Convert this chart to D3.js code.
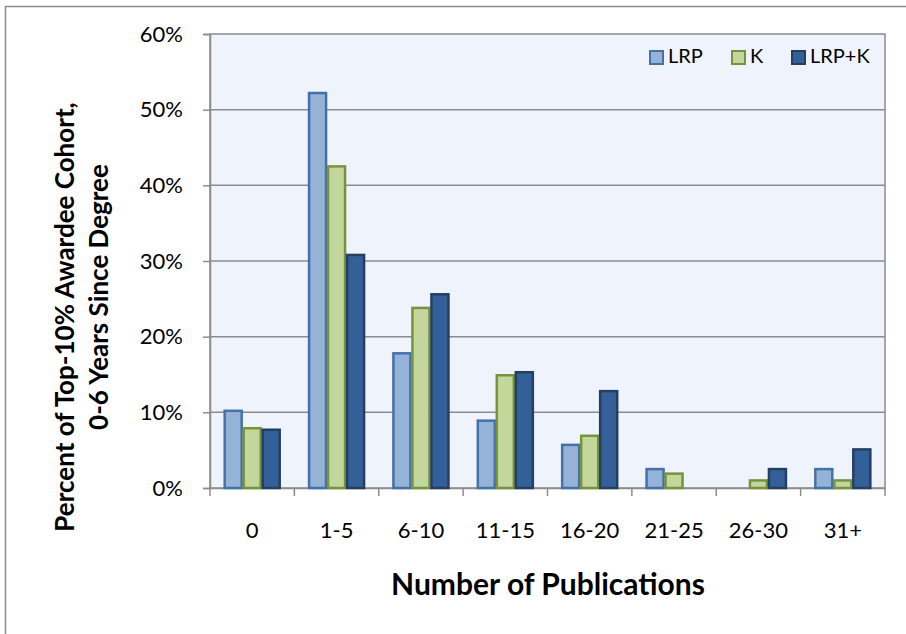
<!DOCTYPE html>
<html><head><meta charset="utf-8">
<script src="https://cdn.jsdelivr.net/npm/d3@7"></script>
<style>body{margin:0;background:#fff}svg{display:block}text{font-family:Lato,"Open Sans",sans-serif}</style>
</head><body>
<svg id="c" width="906" height="634"></svg>
<script>
const categories = ["0","1-5","6-10","11-15","16-20","21-25","26-30","31+"];
const seriesNames = ["LRP","K","LRP+K"];
const lrp = [10.2, 52.2, 17.8, 8.9, 5.7, 2.5, 0, 2.5];
const k = [7.9, 42.5, 23.8, 14.9, 6.9, 1.9, 1.0, 1.0];
const lrpk = [7.7, 30.8, 25.6, 15.3, 12.8, 0, 2.5, 5.1];
const yTicks = [0,10,20,30,40,50,60];
const fills = ["#95b3d7","#c3d69b","#34609a"];
const strokes = ["#4472a8","#77933c","#243f60"];

const svg = d3.select("#c");
const L=210,R=885,T=34,B=488;
svg.append("rect").attr("x",5.5).attr("y",6.5).attr("width",905).attr("height",640).attr("fill","#fff").attr("stroke","#8c8c8c").attr("stroke-width",1.5);
svg.append("rect").attr("x",L).attr("y",T).attr("width",R-L).attr("height",B-T).attr("fill","#eef3fc").attr("stroke","#8c8c8c").attr("stroke-width",1.5);

const x = d3.scaleBand().domain(categories).range([L,R]);
const x1 = d3.scaleBand().domain(seriesNames).range([0,x.bandwidth()]).paddingInner(0).paddingOuter(0.72);
const y = d3.scaleLinear().domain([0,60]).range([B,T]);

// gridlines
svg.append("g").selectAll("line").data(yTicks.filter(t=>t>0&&t<60)).join("line")
  .attr("x1",L).attr("x2",R).attr("y1",d=>y(d)).attr("y2",d=>y(d)).attr("stroke","#8c8c8c").attr("stroke-width",1.5);

// y axis
const ya = svg.append("g").attr("transform",`translate(${L},0)`).call(d3.axisLeft(y).tickValues(yTicks).tickFormat(d=>d+"%").tickSize(7).tickPadding(20));
ya.select(".domain").attr("stroke","#8c8c8c").attr("stroke-width",1.5);
ya.selectAll(".tick line").attr("stroke","#8c8c8c").attr("stroke-width",1.5);
ya.selectAll("text").attr("font-size",22).attr("fill","#000");

// x axis
const xa = svg.append("g").attr("transform",`translate(0,${B})`).call(d3.axisBottom(x).tickSize(0));
xa.select(".domain").attr("stroke","#8c8c8c").attr("stroke-width",1.5);
xa.selectAll("text").attr("font-size",22).attr("fill","#000").attr("dy",null).attr("y",50);
const bounds = categories.map(c=>x(c)).concat([R]);
svg.append("g").selectAll("line").data(bounds).join("line")
  .attr("x1",d=>d).attr("x2",d=>d).attr("y1",B).attr("y2",B+8).attr("stroke","#8c8c8c").attr("stroke-width",1.5);

// bars
const data = [lrp,k,lrpk];
data.forEach((arr,si)=>{
  svg.append("g").selectAll("rect").data(arr).join("rect")
    .attr("x",(d,i)=>x(categories[i])+x1(seriesNames[si])+1)
    .attr("width",x1.bandwidth()-2)
    .attr("y",d=>y(d))
    .attr("height",d=>B-y(d))
    .attr("fill",fills[si]).attr("stroke",strokes[si]).attr("stroke-width",2.5)
    .attr("display",d=>d>0?null:"none");
});

// legend
const legX=[649,731,791];
seriesNames.forEach((n,i)=>{
  svg.append("rect").attr("x",legX[i]+1).attr("y",51).attr("width",13).attr("height",13)
    .attr("fill",fills[i]).attr("stroke",strokes[i]).attr("stroke-width",2);
  svg.append("text").attr("x",legX[i]+19).attr("y",63).attr("font-size",20).text(n);
});

// titles
svg.append("text").attr("x",548).attr("y",595).attr("text-anchor","middle").attr("font-size",30).attr("font-weight","bold").text("Number of Publications");
svg.append("text").attr("transform","translate(74,317) rotate(-90)").attr("text-anchor","middle").attr("font-size",26).attr("font-weight","bold").text("Percent of Top-10% Awardee Cohort,");
svg.append("text").attr("transform","translate(108,297) rotate(-90)").attr("text-anchor","middle").attr("font-size",26).attr("font-weight","bold").text("0-6 Years Since Degree");
</script>
</body></html>
